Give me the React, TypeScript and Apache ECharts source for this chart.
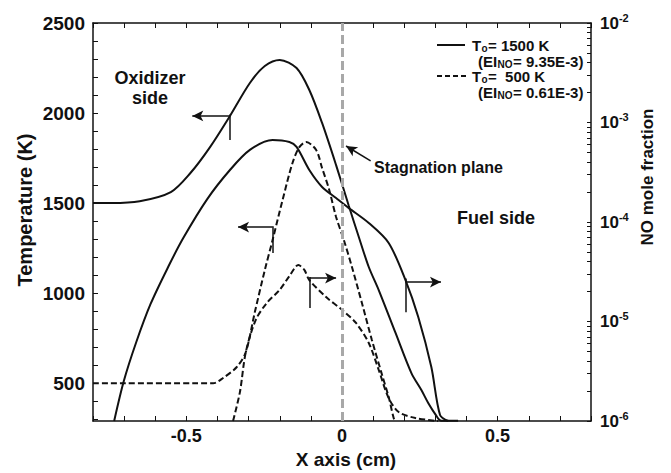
import React, { useEffect, useRef } from 'react';
import * as echarts from 'echarts';

const FONT = '"Liberation Sans", Arial, Helvetica, sans-serif';

// T0 = 1500 K : temperature (left axis)
const xT1500 = [-0.8, -0.74, -0.65, -0.55, -0.487, -0.424, -0.36, -0.296, -0.248, -0.2, -0.146, -0.105, -0.064, -0.019, 0.022, 0.054, 0.086, 0.118, 0.172, 0.223, 0.255, 0.277, 0.299, 0.318, 0.373];
const tT1500 = [1500, 1500, 1510, 1561, 1667, 1811, 1984, 2167, 2261, 2295, 2250, 2128, 1945, 1711, 1484, 1312, 1145, 1017, 779, 556, 462, 390, 330, 292, 291];

// T0 = 1500 K : NO mole fraction (right axis)
const xNO1500 = [-0.732, -0.701, -0.662, -0.615, -0.557, -0.51, -0.433, -0.36, -0.296, -0.223, -0.169, -0.146, -0.105, -0.064, -0.019, 0.022, 0.086, 0.15, 0.204, 0.245, 0.287, 0.315, 0.341];
const yNO1500 = [1.0e-6, 2.52e-6, 6.08e-6, 1.5e-5, 3.61e-5, 6.9e-5, 1.7e-4, 3.33e-4, 5.3e-4, 6.67e-4, 6.37e-4, 5.68e-4, 3.33e-4, 2.25e-4, 1.74e-4, 1.38e-4, 9.77e-5, 6.15e-5, 2.61e-5, 1.11e-5, 3.49e-6, 1.15e-6, 1.0e-6];

// T0 = 500 K : temperature (left axis)
const xT500 = [-0.8, -0.414, -0.382, -0.338, -0.309, -0.28, -0.248, -0.223, -0.191, -0.159, -0.137, -0.115, -0.083, -0.064, -0.041, -0.019, 0.006, 0.032, 0.064, 0.096, 0.127, 0.15, 0.166, 0.172];
const tT500 = [500, 500, 529, 590, 673, 895, 1128, 1295, 1517, 1723, 1811, 1839, 1795, 1695, 1573, 1423, 1295, 1145, 945, 740, 556, 423, 307, 290];

// T0 = 500 K : NO mole fraction (right axis)
const xNO500 = [-0.35, -0.328, -0.309, -0.277, -0.242, -0.201, -0.169, -0.14, -0.121, -0.105, -0.051, 0, 0.045, 0.086, 0.118, 0.15, 0.182, 0.236, 0.309];
const yNO500 = [1.0e-6, 1.95e-6, 4.93e-6, 1.04e-5, 1.53e-5, 2.07e-5, 2.86e-5, 3.7e-5, 3.3e-5, 2.61e-5, 1.76e-5, 1.31e-5, 9.66e-6, 6.08e-6, 3.26e-6, 1.7e-6, 1.23e-6, 1.07e-6, 1.0e-6];

// ticks
const xTickValues = [-0.8, -0.7, -0.6, -0.5, -0.4, -0.3, -0.2, -0.1, 0, 0.1, 0.2, 0.3, 0.4, 0.5, 0.6, 0.7, 0.8];
const xLabelValues = [-0.5, 0, 0.5];
const tTickValues = [300, 400, 500, 600, 700, 800, 900, 1000, 1100, 1200, 1300, 1400, 1500, 1600, 1700, 1800, 1900, 2000, 2100, 2200, 2300, 2400, 2500];
const tLabelValues = [500, 1000, 1500, 2000, 2500];
const noLabelValues = [1e-6, 1e-5, 1e-4, 1e-3, 1e-2];
const noTickValues = [
  1e-6, 2e-6, 3e-6, 4e-6, 5e-6, 6e-6, 7e-6, 8e-6, 9e-6,
  1e-5, 2e-5, 3e-5, 4e-5, 5e-5, 6e-5, 7e-5, 8e-5, 9e-5,
  1e-4, 2e-4, 3e-4, 4e-4, 5e-4, 6e-4, 7e-4, 8e-4, 9e-4,
  1e-3, 2e-3, 3e-3, 4e-3, 5e-3, 6e-3, 7e-3, 8e-3, 9e-3, 1e-2,
];

// legend texts
const legendTemps = ['= 1500 K', '=\u00a0 500 K'];
const legendEI = ['= 9.35E-3)', '= 0.61E-3)'];

const zip = (xs: number[], ys: number[]) => xs.map((x, i) => [x, ys[i]]);

const BLACK = '#111';

export default function App() {
  const ref = useRef<HTMLDivElement>(null);
  useEffect(() => {
    if (!ref.current) return;
    const chart = echarts.init(ref.current, undefined, { renderer: 'svg' });
    const axisLine = { show: true, onZero: false, lineStyle: { color: BLACK, width: 1.5 } };
    const labelStyle = { fontFamily: FONT, fontWeight: 'bold' as const, fontSize: 18, color: BLACK };
    const solid = { color: BLACK, width: 2, type: 'solid' as const };
    const dashed = { color: BLACK, width: 2, type: [6, 3] as any };
    const arrow = (p1: number[], p2: number[]) => [
      { coord: p1, symbol: 'none' },
      { coord: p2, symbol: 'arrow', symbolSize: [8, 11] },
    ];
    const seg = (p1: number[], p2: number[]) => [
      { coord: p1, symbol: 'none' },
      { coord: p2, symbol: 'none' },
    ];
    const ml = (data: any[]) => ({
      silent: true,
      symbol: ['none', 'none'],
      label: { show: false },
      emphasis: { disabled: true },
      lineStyle: { color: BLACK, width: 1.5, type: 'solid' },
      data,
    });
    const txt = (x: number, y: number, text: string, size: number) => ({
      type: 'text', x, y,
      style: { text, font: `bold ${size}px ${FONT}`, lineHeight: size - 1, fill: BLACK, align: 'left', verticalAlign: 'middle' },
    });
    const legendRows: any[] = [];
    [45, 76].forEach((y, i) => {
      legendRows.push(txt(472, y, 'T', 15), txt(481.5, y + 3, 'o', 10), txt(488, y, legendTemps[i], 15));
      const y2 = y + 16;
      legendRows.push(txt(478, y2, '(EI', 15), txt(497.5, y2 + 3, 'NO', 10), txt(513, y2, legendEI[i], 15));
    });
    chart.setOption({
      animation: false,
      grid: { left: 93, right: 80, top: 23, bottom: 52, containLabel: false },
      xAxis: [
        {
          type: 'value', min: -0.8, max: 0.8, position: 'bottom',
          axisLine, splitLine: { show: false },
          axisTick: { show: true, inside: true, length: 5, customValues: xTickValues, lineStyle: { color: BLACK, width: 1 } },
          axisLabel: { ...labelStyle, customValues: xLabelValues, margin: 6, formatter: (v: number) => (v === 0 ? '0' : String(v)) },
        },
        {
          type: 'value', min: -0.8, max: 0.8, position: 'top',
          axisLine, splitLine: { show: false },
          axisTick: { show: true, inside: true, length: 5, customValues: xTickValues, lineStyle: { color: BLACK, width: 1 } },
          axisLabel: { show: false },
        },
      ],
      yAxis: [
        {
          type: 'value', min: 290, max: 2500, position: 'left',
          axisLine, splitLine: { show: false },
          axisTick: { show: true, inside: true, length: 5, customValues: tTickValues, lineStyle: { color: BLACK, width: 1 } },
          axisLabel: { ...labelStyle, fontSize: 19, customValues: tLabelValues, margin: 8, formatter: (v: number) => String(v) },
        },
        {
          type: 'log', logBase: 10, min: 1e-6, max: 1e-2, position: 'right',
          axisLine, splitLine: { show: false }, minorTick: { show: false },
          axisTick: { show: true, inside: true, length: 4, customValues: noTickValues, lineStyle: { color: BLACK, width: 1 } },
          axisLabel: {
            customValues: noLabelValues,
            margin: 9,
            formatter: (v: number) => `{b|10}{s|${Math.round(Math.log10(v))}}`,
            rich: {
              b: { fontFamily: FONT, fontWeight: 'bold', fontSize: 17, lineHeight: 22, color: BLACK },
              s: { fontFamily: FONT, fontWeight: 'bold', fontSize: 11, lineHeight: 12, verticalAlign: 'top', color: BLACK },
            },
          },
        },
      ],
      series: [
        {
          name: 'T 1500', type: 'line', xAxisIndex: 0, yAxisIndex: 0, data: zip(xT1500, tT1500),
          showSymbol: false, smooth: 0.3, lineStyle: solid, silent: true, z: 3,
          markLine: ml([
            { xAxis: 0, lineStyle: { color: '#a8a8a8', width: 3, type: [9, 4] } },
            arrow([-0.36, 1984], [-0.481, 1984]),
            seg([-0.36, 1992], [-0.36, 1850]),
            arrow([0.092, 1734], [0.013, 1817]),
          ]),
        },
        {
          name: 'NO 1500', type: 'line', xAxisIndex: 0, yAxisIndex: 1, data: zip(xNO1500, yNO1500),
          showSymbol: false, smooth: 0.3, lineStyle: solid, silent: true, z: 3,
          markLine: ml([
            arrow([0.204, 2.49e-5], [0.318, 2.49e-5]),
            seg([0.204, 2.7e-5], [0.204, 1.24e-5]),
          ]),
        },
        {
          name: 'T 500', type: 'line', xAxisIndex: 0, yAxisIndex: 0, data: zip(xT500, tT500),
          showSymbol: false, smooth: 0.3, lineStyle: dashed, silent: true, z: 3,
          markLine: ml([
            arrow([-0.223, 1367], [-0.334, 1367]),
            seg([-0.223, 1372], [-0.223, 1223]),
          ]),
        },
        {
          name: 'NO 500', type: 'line', xAxisIndex: 0, yAxisIndex: 1, data: zip(xNO500, yNO500),
          showSymbol: false, smooth: 0.3, lineStyle: dashed, silent: true, z: 3,
          markLine: ml([
            arrow([-0.105, 2.73e-5], [-0.019, 2.73e-5]),
            seg([-0.105, 2.8e-5], [-0.105, 1.37e-5]),
          ]),
        },
      ],
      graphic: [
        { type: 'text', x: 25, y: 210, rotation: Math.PI / 2, style: { text: 'Temperature (K)', font: `bold 20px ${FONT}`, fill: BLACK, align: 'center', verticalAlign: 'middle' } },
        { type: 'text', x: 647, y: 177, rotation: Math.PI / 2, style: { text: 'NO mole fraction', font: `bold 17px ${FONT}`, fill: BLACK, align: 'center', verticalAlign: 'middle' } },
        { type: 'text', x: 346, y: 459, style: { text: 'X axis (cm)', font: `bold 19px ${FONT}`, fill: BLACK, align: 'center', verticalAlign: 'middle' } },
        { type: 'text', x: 150, y: 88, style: { text: 'Oxidizer\nside', font: `bold 18px ${FONT}`, lineHeight: 20, fill: BLACK, align: 'center', verticalAlign: 'middle' } },
        { type: 'text', x: 496, y: 218, style: { text: 'Fuel side', font: `bold 18px ${FONT}`, fill: BLACK, align: 'center', verticalAlign: 'middle' } },
        { type: 'text', x: 374, y: 167, style: { text: 'Stagnation plane', font: `bold 16px ${FONT}`, fill: BLACK, align: 'left', verticalAlign: 'middle' } },
        // legend
        { type: 'line', shape: { x1: 437, y1: 45, x2: 465, y2: 45 }, style: { stroke: BLACK, lineWidth: 2 } },
        { type: 'line', shape: { x1: 437, y1: 76, x2: 467, y2: 76 }, style: { stroke: BLACK, lineWidth: 2, lineDash: [5, 3] } },
        ...legendRows,
      ],
    });
    return () => chart.dispose();
  }, []);
  return <div ref={ref} style={{ position: 'fixed', left: 0, top: 0, width: 671, height: 473, background: '#fff' }} />;
}
